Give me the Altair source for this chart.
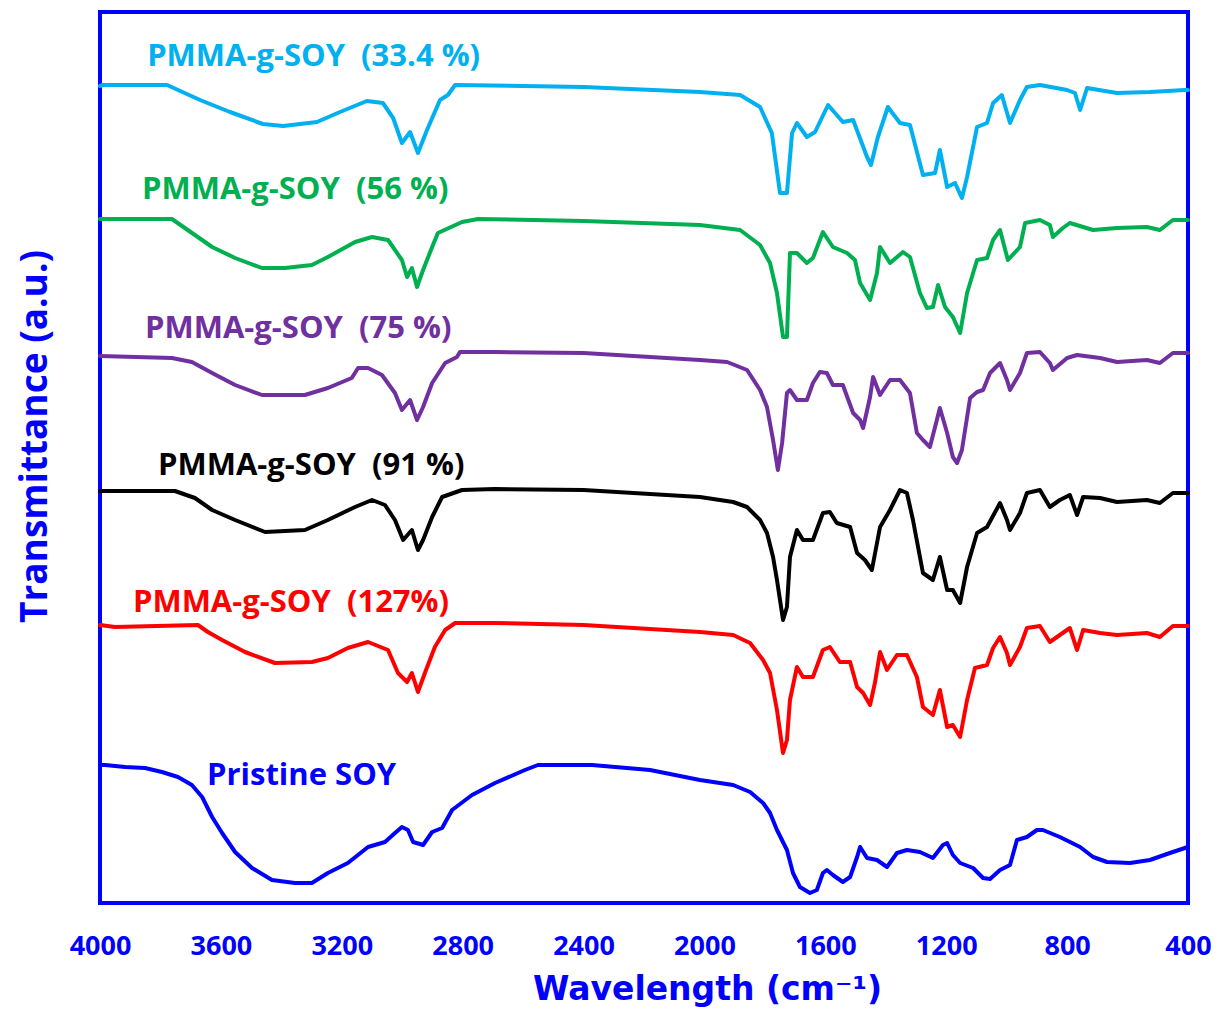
import altair as alt
import pandas as pd

# ---------------- data (wavenumber cm-1, transmittance a.u.) ----------------
wn_334 = [4000, 3990, 3778, 3669, 3570, 3461, 3394, 3282, 3206, 3117, 3064, 3030, 3001, 2974, 2948, 2918,
          2875, 2849, 2825, 2400, 2015, 1882, 1816, 1777, 1750, 1727, 1710, 1694, 1661, 1634, 1591, 1542,
          1508, 1462, 1449, 1426, 1393, 1353, 1320, 1277, 1237, 1221, 1197, 1171, 1148, 1131, 1098, 1065,
          1045, 1016, 989, 956, 933, 890, 800, 774, 757, 734, 635, 526, 410, 400]
t_334 = [817, 818, 818, 803, 791, 779, 777, 781, 791, 802, 800, 785, 760, 771, 750, 773,
         803, 808, 818, 816, 811, 808, 796, 770, 710, 710, 770, 780, 766, 771, 798, 781,
         783, 746, 738, 766, 796, 780, 778, 728, 730, 753, 716, 720, 705, 726, 776, 780,
         800, 808, 780, 803, 816, 818, 813, 810, 793, 815, 810, 811, 813, 813]

wn_56 = [4000, 3762, 3686, 3629, 3553, 3464, 3388, 3299, 3246, 3156, 3100, 3047, 3001, 2984, 2968, 2951,
         2931, 2901, 2882, 2802, 2749, 2400, 2015, 1882, 1816, 1783, 1760, 1740, 1727, 1717, 1694, 1661,
         1641, 1608, 1575, 1528, 1502, 1485, 1452, 1429, 1419, 1386, 1343, 1320, 1287, 1264, 1244, 1227,
         1204, 1178, 1154, 1131, 1098, 1065, 1045, 1022, 996, 956, 939, 890, 857, 847, 814, 791,
         714, 635, 536, 493, 450, 400]
t_56 = [684, 684, 668, 656, 645, 635, 635, 638, 646, 661, 666, 663, 643, 626, 635, 616,
        633, 656, 670, 681, 684, 682, 678, 673, 658, 640, 610, 566, 566, 650, 650, 640,
        645, 671, 656, 650, 643, 620, 603, 630, 656, 640, 651, 646, 610, 595, 596, 618,
        596, 586, 570, 610, 643, 645, 663, 673, 643, 656, 680, 683, 678, 666, 675, 680,
        673, 675, 676, 673, 683, 683]

wn_75 = [4000, 3762, 3696, 3629, 3553, 3464, 3322, 3246, 3167, 3146, 3113, 3067, 3024, 3001, 2974, 2951,
         2931, 2901, 2858, 2819, 2809, 2693, 2400, 2015, 1925, 1859, 1816, 1793, 1773, 1757, 1743, 1727,
         1717, 1694, 1661, 1641, 1618, 1595, 1575, 1542, 1508, 1485, 1475, 1452, 1442, 1419, 1386, 1353,
         1320, 1297, 1277, 1254, 1231, 1221, 1197, 1178, 1164, 1148, 1121, 1098, 1078, 1055, 1022, 999,
         989, 956, 933, 890, 857, 847, 800, 767, 691, 635, 536, 493, 450, 400]
t_75 = [547, 545, 541, 530, 518, 508, 508, 515, 525, 535, 535, 528, 510, 493, 503, 483,
        496, 520, 540, 546, 551, 551, 550, 543, 541, 533, 513, 496, 463, 433, 460, 510,
        513, 503, 503, 520, 531, 530, 518, 518, 490, 483, 475, 506, 526, 508, 523, 523,
        510, 470, 463, 456, 483, 495, 470, 446, 440, 453, 505, 511, 513, 530, 540, 523,
        513, 530, 550, 551, 540, 533, 545, 548, 545, 541, 543, 540, 550, 550]

wn_91 = [4000, 3752, 3686, 3629, 3553, 3454, 3322, 3246, 3156, 3100, 3057, 3024, 2997, 2968, 2948, 2931,
         2901, 2868, 2802, 2693, 2400, 2015, 1905, 1859, 1816, 1793, 1773, 1760, 1740, 1727, 1717, 1694,
         1674, 1641, 1608, 1585, 1562, 1518, 1495, 1469, 1446, 1419, 1386, 1353, 1330, 1310, 1277, 1244,
         1221, 1197, 1178, 1154, 1131, 1098, 1065, 1022, 999, 989, 956, 933, 890, 857, 824, 791,
         767, 747, 691, 635, 536, 493, 450, 400]
t_91 = [412, 412, 405, 393, 383, 371, 373, 383, 396, 403, 398, 383, 363, 373, 353, 363,
        386, 406, 413, 414, 413, 406, 401, 396, 383, 370, 346, 323, 283, 296, 346, 373,
        363, 363, 390, 391, 380, 376, 350, 343, 333, 376, 393, 413, 410, 383, 330, 323,
        346, 313, 313, 300, 336, 370, 376, 400, 383, 373, 390, 410, 413, 396, 403, 408,
        388, 406, 405, 401, 403, 400, 410, 410]

wn_127 = [4000, 3950, 3676, 3643, 3596, 3520, 3421, 3299, 3246, 3180, 3113, 3047, 3014, 2984, 2968, 2948,
          2925, 2892, 2858, 2825, 2693, 2400, 2015, 1905, 1849, 1806, 1783, 1760, 1740, 1727, 1717, 1694,
          1674, 1641, 1608, 1585, 1552, 1518, 1495, 1475, 1452, 1436, 1419, 1396, 1363, 1330, 1297, 1277,
          1244, 1221, 1197, 1178, 1154, 1131, 1105, 1065, 1045, 1022, 999, 989, 956, 933, 890, 857,
          824, 791, 767, 747, 691, 635, 536, 493, 450, 400]
t_127 = [278, 276, 278, 271, 263, 251, 240, 241, 245, 255, 261, 253, 230, 221, 230, 211,
         230, 256, 273, 280, 280, 278, 271, 268, 260, 243, 230, 193, 150, 163, 203, 236,
         226, 226, 253, 256, 241, 241, 216, 210, 198, 220, 251, 233, 248, 248, 226, 196,
         188, 213, 176, 178, 166, 203, 235, 238, 255, 266, 250, 238, 256, 275, 277, 261,
         268, 275, 253, 273, 270, 268, 270, 266, 277, 277]

wn_soy = [4000, 3983, 3917, 3851, 3795, 3742, 3696, 3662, 3629, 3596, 3553, 3497, 3431, 3355, 3299, 3246,
          3180, 3113, 3057, 3024, 3001, 2981, 2964, 2931, 2901, 2868, 2835, 2769, 2693, 2594, 2551, 2372,
          2180, 2015, 1905, 1849, 1806, 1783, 1760, 1727, 1707, 1684, 1651, 1628, 1608, 1595, 1575, 1542,
          1518, 1495, 1485, 1462, 1429, 1396, 1363, 1330, 1287, 1244, 1211, 1197, 1178, 1154, 1111, 1078,
          1055, 1022, 989, 966, 933, 900, 880, 824, 757, 714, 668, 592, 526, 460, 400]
t_soy = [138, 138, 136, 135, 131, 126, 118, 106, 86, 70, 51, 35, 23, 20, 20, 30,
         40, 56, 61, 70, 76, 73, 61, 58, 71, 75, 93, 108, 120, 133, 138, 138,
         133, 123, 118, 111, 100, 90, 73, 53, 30, 16, 10, 13, 30, 33, 28, 21,
         26, 46, 56, 45, 43, 36, 50, 53, 51, 45, 58, 60, 48, 40, 35, 25,
         24, 33, 38, 63, 66, 73, 73, 66, 56, 46, 41, 40, 43, 50, 56]

series_names = ["PMMA-g-SOY  (33.4 %)", "PMMA-g-SOY  (56 %)", "PMMA-g-SOY  (75 %)",
                "PMMA-g-SOY  (91 %)", "PMMA-g-SOY  (127%)", "Pristine SOY"]
series_colors = ["#00B0F0", "#00B050", "#7030A0", "#000000", "#FF0000", "#0000FF"]
series_wn = [wn_334, wn_56, wn_75, wn_91, wn_127, wn_soy]
series_t = [t_334, t_56, t_75, t_91, t_127, t_soy]

# label anchors (left edge wavenumber, transmittance)
label_wn = [3844, 3861, 3851, 3808, 3891, 3646]
label_t = [846, 713, 574, 437, 300, 127]

x_ticks = [4000, 3600, 3200, 2800, 2400, 2000, 1600, 1200, 800, 400]

# ---------------- build tables ----------------
rows = []
for name, wns, ts in zip(series_names, series_wn, series_t):
    for i, (w, t) in enumerate(zip(wns, ts)):
        rows.append({"series": name, "wn": w, "T": t, "i": i})
df = pd.DataFrame(rows)

lab = pd.DataFrame({
    "series": series_names,
    "wn": label_wn,
    "T": label_t,
    "text": [s.replace(" ", "\u00a0") for s in series_names],
})

color_scale = alt.Scale(domain=series_names, range=series_colors)
x_scale = alt.Scale(domain=[400, 4000], reverse=True, nice=False, zero=False)
y_scale = alt.Scale(domain=[0, 891], nice=False, zero=False)

x_axis = alt.Axis(
    values=x_ticks, format="d", ticks=False, tickSize=0, domain=False, grid=False,
    labelFont="Open Sans", labelFontWeight="bold", labelFontSize=27, labelColor="#0000FF",
    labelPadding=30, labelFlush=False,
    title="Wavelength (cm\u207b\u00b9)", titleFont="DejaVu Sans", titleFontWeight="bold",
    titleFontSize=33, titleColor="#0000FF", titleX=607, titleY=96, titleAlign="center",
    titleBaseline="alphabetic",
)
y_axis = alt.Axis(
    labels=False, ticks=False, domain=False, grid=False,
    title="Transmittance (a.u.)", titleFont="Open Sans", titleFontWeight="bold",
    titleFontSize=37, titleColor="#0000FF", titleX=-65, titleY=424,
    titleAngle=270, titleAlign="center", titleBaseline="middle",
)

lines = alt.Chart(df).mark_line(strokeWidth=4, strokeJoin="round", strokeCap="round").encode(
    x=alt.X("wn:Q", scale=x_scale, axis=x_axis),
    y=alt.Y("T:Q", scale=y_scale, axis=y_axis),
    color=alt.Color("series:N", scale=color_scale, legend=None),
    order=alt.Order("i:Q"),
)

labels = alt.Chart(lab).mark_text(
    align="left", baseline="middle", font="Open Sans", fontWeight="bold", fontSize=31
).encode(
    x=alt.X("wn:Q", scale=x_scale),
    y=alt.Y("T:Q", scale=y_scale),
    text="text:N",
    color=alt.Color("series:N", scale=color_scale, legend=None),
)

chart = alt.layer(lines, labels).properties(
    width=1088, height=891,
    background="white",
    autosize=alt.AutoSizeParams(type="none"),
    padding={"left": 92, "top": 4, "right": 23, "bottom": 110},
).configure_view(
    stroke="#0000FF", strokeWidth=4
)

chart.save("out.html", embed_options={"renderer": "svg", "actions": False})
